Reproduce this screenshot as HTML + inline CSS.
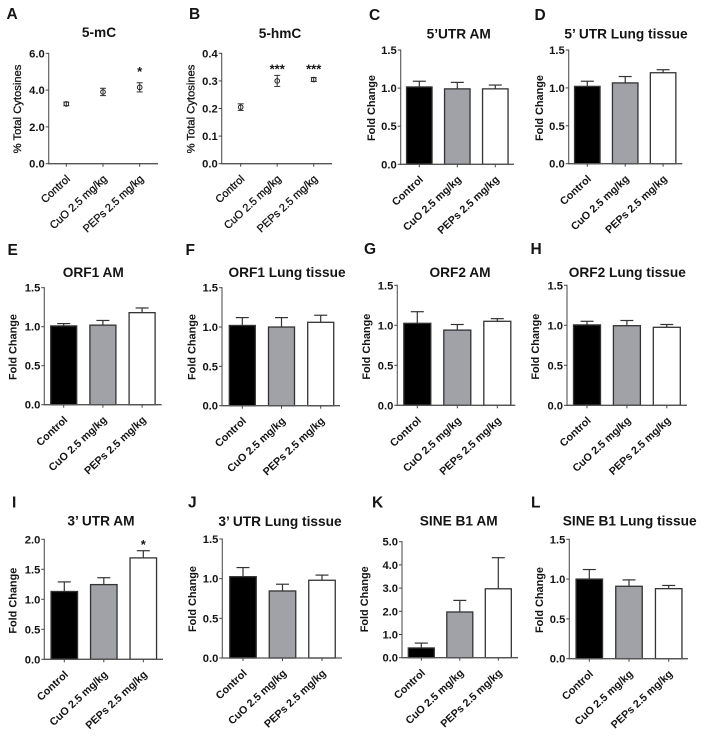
<!DOCTYPE html>
<html lang="en">
<head>
<meta charset="utf-8">
<title>Methylation and retroelement expression panels</title>
<style>
html,body{margin:0;padding:0;background:#fff;width:704px;height:740px;overflow:hidden}
svg{display:block;font-family:"Liberation Sans",Arial,sans-serif;filter:blur(0.3px)}
text{fill:#141414}
</style>
</head>
<body>
<svg id="figure" width="704" height="740" viewBox="0 0 704 740" xmlns="http://www.w3.org/2000/svg"></svg>
<script>
const categories = ['Control', 'CuO 2.5 mg/kg', 'PEPs 2.5 mg/kg'];

const ticksA = [0, 2, 4, 6];
const meansA = [3.25, 3.9, 4.15];
const errorsA = [0.1, 0.2, 0.25];
const starsA = ['', '', '*'];
const starLevelsA = [0, 0, 5.1];

const ticksB = [0, 0.1, 0.2, 0.3, 0.4];
const meansB = [0.205, 0.30, 0.305];
const errorsB = [0.012, 0.02, 0.007];
const starsB = ['', '***', '***'];
const starLevelsB = [0, 0.348, 0.348];

const ticksFold = [0, 0.5, 1.0, 1.5];

const meansC = [1.015, 0.99, 0.99];
const errorsC = [0.075, 0.085, 0.05];
const meansD = [1.02, 1.066, 1.20];
const errorsD = [0.068, 0.084, 0.04];
const meansE = [1.01, 1.02, 1.18];
const errorsE = [0.03, 0.06, 0.06];
const meansF = [1.02, 1.0, 1.06];
const errorsF = [0.10, 0.12, 0.09];
const meansG = [1.025, 0.94, 1.05];
const errorsG = [0.145, 0.07, 0.033];
const meansH = [1.005, 0.995, 0.975];
const errorsH = [0.045, 0.065, 0.035];

const ticksI = [0, 0.5, 1.0, 1.5, 2.0];
const meansI = [1.13, 1.245, 1.69];
const errorsI = [0.16, 0.115, 0.12];
const starsI = ['', '', '*'];
const starLevelsI = [0, 0, 1.94];

const meansJ = [1.025, 0.845, 0.98];
const errorsJ = [0.115, 0.085, 0.065];

const ticksK = [0, 1, 2, 3, 4, 5];
const meansK = [0.42, 1.97, 2.97];
const errorsK = [0.21, 0.50, 1.34];

const meansL = [1.0, 0.91, 0.88];
const errorsL = [0.12, 0.08, 0.04];

const NS = 'http://www.w3.org/2000/svg';
const fig = document.getElementById('figure');

function make(parent, tag, props, content) {
  const el = document.createElementNS(NS, tag);
  for (const key in props) el.setAttribute(key, props[key]);
  if (content !== undefined) el.textContent = content;
  parent.appendChild(el);
  return el;
}

function drawPanel(p) {
  const g = make(fig, 'g', {});
  
  

  const maxTick = p.ticks[p.ticks.length - 1];
  const yScale = v => p.bottom - (v / maxTick) * (p.bottom - p.top);
  const xScale = i => p.first + i * p.step;
  const isBar = p.type === 'bar';

  const letter = make(g, 'text', {x: p.letterX, y: p.letterY, 'font-size': 15.5, 'font-weight': 'bold'}, p.letter);
  
  

  const title = make(g, 'text', {x: p.titleX, y: p.titleY, 'font-size': 13.7, 'font-weight': 'bold', 'text-anchor': 'middle'}, p.title);
  
  

  const yTitleProps = {
    x: 0, y: 0, 'font-size': isBar ? 10.9 : 11.2, 'font-weight': isBar ? 'bold' : 'normal',
    'text-anchor': 'middle', 'dominant-baseline': 'middle',
    transform: 'translate(' + p.yTitleX + ' ' + p.yTitleY + ') rotate(-90)'
  };
  if (!isBar) {
    yTitleProps.stroke = '#141414';
    yTitleProps['stroke-width'] = 0.3;
  }
  const yTitle = make(g, 'text', yTitleProps, p.yLabel);
  
  

  p.means.forEach((mean, i) => {
    const x = xScale(i);
    const top = mean + p.errors[i];
    if (isBar) {
      const errLine = make(g, 'line', {x1: x, x2: x, y1: yScale(top), y2: yScale(mean), stroke: '#333', 'stroke-width': 1.2});
      
      
      const cap = make(g, 'line', {x1: x - 6.5, x2: x + 6.5, y1: yScale(top), y2: yScale(top), stroke: '#333', 'stroke-width': 1.2});
      
      
      const fills = ['#000000', '#a1a1a8', '#ffffff'];
      const bar = make(g, 'rect', {
        x: x - p.barW / 2, y: yScale(mean), width: p.barW, height: p.bottom - yScale(mean),
        fill: fills[i], stroke: '#333', 'stroke-width': 1.3
      });
      
      
    } else {
      const bottomVal = mean - p.errors[i];
      const errLine = make(g, 'line', {x1: x, x2: x, y1: yScale(top), y2: yScale(bottomVal), stroke: '#333', 'stroke-width': 1});
      
      
      [top, bottomVal].forEach(v => {
        const cap = make(g, 'line', {x1: x - 3, x2: x + 3, y1: yScale(v), y2: yScale(v), stroke: '#333', 'stroke-width': 1});
        
        
      });
      const point = make(g, 'circle', {cx: x, cy: yScale(mean), r: 2.3, fill: 'none', stroke: '#222', 'stroke-width': 1});
      
      
    }
  });

  if (p.stars) {
    p.stars.forEach((s, i) => {
      if (!s) return;
      const star = make(g, 'text', {x: xScale(i), y: yScale(p.starLevels[i]) + 6, 'font-size': 13, 'font-weight': 'bold', 'text-anchor': 'middle'}, s);
      
      
    });
  }

  const yAxis = make(g, 'line', {x1: p.axisX, x2: p.axisX, y1: p.top - 0.5, y2: p.bottom + 0.5, stroke: '#555', 'stroke-width': 1.1});
  
  
  const xAxis = make(g, 'line', {x1: p.axisX - 0.5, x2: p.end, y1: p.bottom, y2: p.bottom, stroke: '#555', 'stroke-width': 1.3});
  
  

  p.ticks.forEach(t => {
    const y = yScale(t);
    const tick = make(g, 'line', {x1: p.axisX - 3, x2: p.axisX, y1: y, y2: y, stroke: '#444', 'stroke-width': 1});
    
    
    const label = make(g, 'text', {
      x: p.axisX - 4, y: y + 4, 'font-size': 11.2, 'font-weight': 'bold', 'text-anchor': 'end'
    }, t.toFixed(1));
    
    
  });

  categories.forEach((c, i) => {
    const x = xScale(i);
    const tick = make(g, 'line', {x1: x, x2: x, y1: p.bottom, y2: p.bottom + 3, stroke: '#444', 'stroke-width': 1});
    
    
    const labelProps = {
      x: 0, y: 0, 'font-size': isBar ? 10.7 : 10.9, 'font-weight': isBar ? 'bold' : 'normal', 'text-anchor': 'end',
      transform: 'translate(' + (x + 4.5) + ' ' + (p.bottom + 16) + ') rotate(-43)'
    };
    if (!isBar) {
      labelProps.stroke = '#141414';
      labelProps['stroke-width'] = 0.3;
    }
    const label = make(g, 'text', labelProps, c);
    
    
  });
}

const panels = [
  {letter:'A', title:'5-mC', type:'point', yLabel:'% Total Cytosines', ticks:ticksA, means:meansA, errors:errorsA, stars:starsA, starLevels:starLevelsA,
   axisX:48.7, top:53.3, bottom:163.7, end:158, first:66.3, step:36.7, barW:0, letterX:6.5, letterY:19, titleX:99, titleY:37, yTitleX:18, yTitleY:109},
  {letter:'B', title:'5-hmC', type:'point', yLabel:'% Total Cytosines', ticks:ticksB, means:meansB, errors:errorsB, stars:starsB, starLevels:starLevelsB,
   axisX:221.7, top:53.3, bottom:163.7, end:332, first:240.7, step:36.5, barW:0, letterX:189, letterY:19, titleX:280, titleY:38, yTitleX:191.5, yTitleY:109},
  {letter:'C', title:'5’UTR AM', type:'bar', yLabel:'Fold Change', ticks:ticksFold, means:meansC, errors:errorsC,
   axisX:400.7, top:50, bottom:164.3, end:514, first:419.3, step:38, barW:25.5, letterX:369, letterY:20, titleX:458.7, titleY:38.5, yTitleX:372, yTitleY:108},
  {letter:'D', title:'5’ UTR Lung tissue', type:'bar', yLabel:'Fold Change', ticks:ticksFold, means:meansD, errors:errorsD,
   axisX:568.7, top:50, bottom:163.7, end:682.3, first:587.3, step:37.9, barW:25.5, letterX:534.5, letterY:20, titleX:626, titleY:38.5, yTitleX:540, yTitleY:108},
  {letter:'E', title:'ORF1 AM', type:'bar', yLabel:'Fold Change', ticks:ticksFold, means:meansE, errors:errorsE,
   axisX:44.3, top:287.7, bottom:404.7, end:161.7, first:63.7, step:39.2, barW:26, letterX:7.5, letterY:255, titleX:93.3, titleY:277, yTitleX:13.5, yTitleY:347},
  {letter:'F', title:'ORF1 Lung tissue', type:'bar', yLabel:'Fold Change', ticks:ticksFold, means:meansF, errors:errorsF,
   axisX:222, top:287.7, bottom:405.7, end:340, first:242.3, step:39.2, barW:26, letterX:185.5, letterY:255, titleX:287, titleY:277, yTitleX:192.7, yTitleY:347},
  {letter:'G', title:'ORF2 AM', type:'bar', yLabel:'Fold Change', ticks:ticksFold, means:meansG, errors:errorsG,
   axisX:397.3, top:285.3, bottom:405.3, end:515.3, first:417.3, step:40, barW:27, letterX:364, letterY:254, titleX:460, titleY:277, yTitleX:367, yTitleY:346.7},
  {letter:'H', title:'ORF2 Lung tissue', type:'bar', yLabel:'Fold Change', ticks:ticksFold, means:meansH, errors:errorsH,
   axisX:567, top:285.3, bottom:405.3, end:687, first:587, step:39.9, barW:27, letterX:530.5, letterY:254, titleX:627.3, titleY:277, yTitleX:536, yTitleY:346.7},
  {letter:'I', title:'3’ UTR AM', type:'bar', yLabel:'Fold Change', ticks:ticksI, means:meansI, errors:errorsI, stars:starsI, starLevels:starLevelsI,
   axisX:44.3, top:539.3, bottom:659.3, end:163, first:64.3, step:39.5, barW:26.5, letterX:12, letterY:507.5, titleX:101, titleY:525.5, yTitleX:13.7, yTitleY:600.7},
  {letter:'J', title:'3’ UTR Lung tissue', type:'bar', yLabel:'Fold Change', ticks:ticksFold, means:meansJ, errors:errorsJ,
   axisX:222.3, top:539, bottom:658, end:342, first:243, step:39.5, barW:26.5, letterX:188, letterY:507.5, titleX:280, titleY:526, yTitleX:193.3, yTitleY:599},
  {letter:'K', title:'SINE B1 AM', type:'bar', yLabel:'Fold Change', ticks:ticksK, means:meansK, errors:errorsK,
   axisX:402, top:541.7, bottom:657.7, end:518, first:421.3, step:38.5, barW:26, letterX:372, letterY:507.5, titleX:458.7, titleY:525.5, yTitleX:365.3, yTitleY:599.3},
  {letter:'L', title:'SINE B1 Lung tissue', type:'bar', yLabel:'Fold Change', ticks:ticksFold, means:meansL, errors:errorsL,
   axisX:569.3, top:539.3, bottom:658.7, end:688, first:589.3, step:39.7, barW:26.5, letterX:531, letterY:507.5, titleX:629.7, titleY:525.5, yTitleX:540.3, yTitleY:600}
];

panels.forEach(drawPanel);
</script>
</body>
</html>
